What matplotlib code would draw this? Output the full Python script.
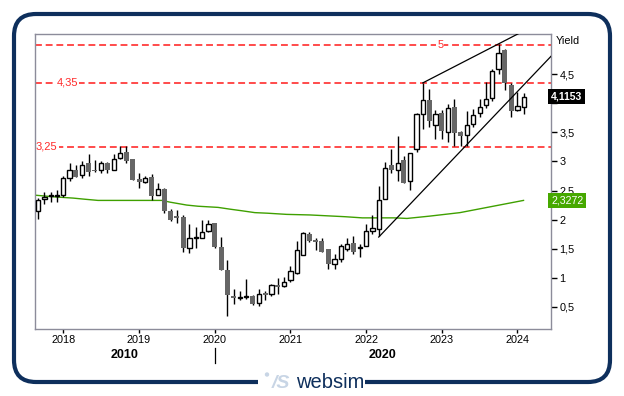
import matplotlib
matplotlib.use("Agg")
import matplotlib.pyplot as plt
import matplotlib.ticker as mticker
from matplotlib.patches import FancyBboxPatch, Rectangle, Circle
import numpy as np
import pandas as pd

plt.rcParams['font.family'] = ['Liberation Sans', 'DejaVu Sans']

# ---------------- data (monthly candles, Sep 2017 .. Feb 2024) ----------------
months = pd.period_range('2017-09', '2024-02', freq='M')
opens = [2.14, 2.35, 2.40, 2.41, 2.43, 2.72, 2.86, 2.76, 2.97, 2.86, 2.86, 2.97,
         2.86, 3.06, 3.16, 3.04, 2.70, 2.65, 2.73, 2.43, 2.52, 2.14, 2.06, 2.04,
         1.52, 1.69, 1.69, 1.81, 1.94, 1.53, 1.14, 0.69, 0.66, 0.67, 0.69, 0.56,
         0.74, 0.72, 0.87, 0.86, 0.96, 1.09, 1.40, 1.75, 1.65, 1.64, 1.49, 1.24,
         1.33, 1.50, 1.59, 1.51, 1.54, 1.80, 1.84, 2.36, 2.94, 2.86, 3.02, 2.67,
         3.21, 3.81, 4.05, 3.62, 3.84, 3.51, 3.93, 3.51, 3.46, 3.64, 3.84, 3.97,
         4.09, 4.59, 4.91, 4.31, 3.89, 3.93]
highs = [2.37, 2.48, 2.48, 2.51, 2.75, 2.98, 2.93, 3.00, 3.13, 3.02, 3.01, 2.99,
         3.13, 3.26, 3.26, 3.05, 2.80, 2.75, 2.78, 2.63, 2.54, 2.19, 2.16, 2.08,
         1.92, 1.87, 1.99, 1.99, 1.95, 1.70, 1.30, 0.81, 0.77, 0.98, 0.70, 0.81,
         0.78, 0.89, 0.99, 1.01, 1.20, 1.63, 1.78, 1.78, 1.69, 1.68, 1.49, 1.41,
         1.58, 1.69, 1.71, 1.58, 1.93, 2.08, 2.58, 2.99, 3.21, 3.43, 3.10, 3.14,
         3.83, 4.35, 4.24, 3.89, 3.89, 3.98, 4.08, 3.53, 3.87, 3.90, 4.07, 4.36,
         4.58, 5.02, 4.94, 4.34, 4.19, 4.17]
lows = [2.01, 2.27, 2.31, 2.31, 2.39, 2.66, 2.74, 2.71, 2.75, 2.81, 2.80, 2.80,
        2.86, 3.04, 2.98, 2.68, 2.54, 2.63, 2.33, 2.43, 2.12, 1.98, 1.95, 1.45,
        1.43, 1.52, 1.68, 1.78, 1.52, 1.14, 0.34, 0.55, 0.62, 0.64, 0.54, 0.52,
        0.62, 0.69, 0.73, 0.85, 0.92, 1.07, 1.39, 1.61, 1.48, 1.44, 1.15, 1.15,
        1.28, 1.46, 1.41, 1.35, 1.54, 1.75, 1.72, 2.35, 2.80, 2.67, 2.63, 2.51,
        3.17, 3.56, 3.60, 3.39, 3.38, 3.33, 3.27, 3.27, 3.27, 3.60, 3.77, 3.92,
        4.04, 4.51, 4.23, 3.77, 3.87, 3.81]
closes = [2.33, 2.39, 2.42, 2.41, 2.72, 2.86, 2.74, 2.93, 2.82, 2.83, 2.97, 2.86,
          3.05, 3.15, 3.01, 2.68, 2.64, 2.71, 2.41, 2.52, 2.15, 2.00, 2.03, 1.52,
          1.68, 1.69, 1.78, 1.92, 1.53, 1.14, 0.71, 0.65, 0.66, 0.67, 0.55, 0.72,
          0.70, 0.87, 0.85, 0.92, 1.11, 1.48, 1.77, 1.64, 1.61, 1.45, 1.24, 1.32,
          1.54, 1.58, 1.45, 1.51, 1.80, 1.85, 2.34, 2.88, 2.85, 2.98, 2.63, 3.14,
          3.81, 4.06, 3.70, 3.82, 3.53, 3.91, 3.48, 3.44, 3.62, 3.80, 3.94, 4.08,
          4.56, 4.86, 4.34, 3.86, 3.96, 4.1153]

# moving average line (read points)
ma_x = [2017.626, 2017.89, 2018.128, 2018.287, 2018.458, 2019.304, 2019.41, 2019.63,
        2019.78, 2020.045, 2020.20, 2020.37, 2020.53, 2020.70, 2020.95, 2021.26,
        2021.72, 2021.95, 2022.38, 2022.54, 2022.84, 2023.24, 2023.64, 2024.08]
ma_v = [2.42, 2.39, 2.37, 2.35, 2.33, 2.33, 2.30, 2.25, 2.23, 2.21, 2.18, 2.15, 2.12,
        2.11, 2.09, 2.08, 2.05, 2.03, 2.03, 2.02, 2.06, 2.12, 2.22, 2.33]
ma_last = 2.3272
last_close = 4.1153

levels = [5.0, 4.35, 3.25]
level_labels = ['5', '4,35', '3,25']
level_label_x = [2022.98, 2018.05, 2017.78]

upper_trend = ([2022.75, 2023.75], [4.35, 5.02])
lower_trend = ([2022.167, 2023.2], [1.70, 3.11])

year_ticks = [2018, 2019, 2020, 2021, 2022, 2023, 2024]
y_ticks = [0.5, 1, 1.5, 2, 2.5, 3, 3.5, 4, 4.5]
decades = ['2010', '2020']

# ---------------- figure ----------------
W, H = 624, 396
fig = plt.figure(figsize=(W / 100, H / 100), dpi=100)
fig.patch.set_facecolor('white')

bg = fig.add_axes([0, 0, 1, 1], zorder=-5)
bg.set_xlim(0, W)
bg.set_ylim(H, 0)
bg.axis('off')

navy = '#0e2f5c'
frame = FancyBboxPatch((14, 14), 596, 368, boxstyle='round,pad=0,rounding_size=22',
                       fill=False, ec=navy, lw=3.0)
bg.add_patch(frame)
bg.add_patch(Rectangle((258, 370), 107, 20, fc='white', ec='none', zorder=3))
bg.add_patch(Circle((267, 374.5), 2.2, fc='#c8d5e5', ec='none', zorder=4))
bg.text(281, 383, '/S', fontsize=14, fontstyle='italic', fontweight='bold',
        color='#c8d5e5', ha='center', va='center', zorder=4)
bg.text(296, 383, 'websim', fontsize=14.5, color=navy, ha='left', va='center', zorder=4)

ax = fig.add_axes([35 / W, 1 - 329 / H, 516 / W, 295 / H])
x = np.asarray(months.year + (months.month - 1) / 12.0, dtype=float)
o = np.array(opens); h = np.array(highs); l = np.array(lows); c = np.array(closes)

ax.vlines(x, l, h, color='black', lw=1.0, zorder=3)
up = c >= o
bw = 0.056
body_lo = np.minimum(o, c)
body_h = np.maximum(np.abs(c - o), 0.012)
ax.bar(x[up], body_h[up], bottom=body_lo[up], width=bw, color='white',
       edgecolor='black', linewidth=1.0, zorder=4)
ax.bar(x[~up], body_h[~up], bottom=body_lo[~up], width=bw + 0.01, color='#666666',
       edgecolor='none', linewidth=0, zorder=4)

ax.plot(ma_x, ma_v, color='#3fa000', lw=1.0, zorder=2)

for lv, lab, lx in zip(levels, level_labels, level_label_x):
    ax.axhline(lv, color='#ff1a1a', lw=1.1, ls=(0, (4.5, 2.5)), zorder=1)
    ax.text(lx, lv, lab, color='#ff2a2a', fontsize=8, ha='center', va='center',
            bbox=dict(fc='white', ec='none', pad=0.8), zorder=1.5)

def extend(pts, x1):
    (xa, xb), (ya, yb) = pts
    s = (yb - ya) / (xb - xa)
    return [xa, x1], [ya, ya + s * (x1 - xa)]

ux, uy = extend(upper_trend, 2024.3)
lx_, ly_ = extend(lower_trend, 2024.6)
ax.plot(ux, uy, color='black', lw=0.9, zorder=5)
ax.plot(lx_, ly_, color='black', lw=0.9, zorder=5)

ax.set_xlim(2017.626, 2024.443)
ax.set_ylim(0.12, 5.19)

for s in ax.spines.values():
    s.set_color('#8c8c9a')
    s.set_linewidth(1.0)

ax.yaxis.tick_right()
ax.set_yticks(y_ticks)
# the "4" label sits behind the last-value box in the reference
ax.yaxis.set_major_formatter(mticker.FuncFormatter(
    lambda v, p: '' if abs(v - 4) < 1e-9 else ('%g' % v).replace('.', ',')))
ax.tick_params(axis='y', length=4, width=1, pad=2, labelsize=7.8, colors='black')
ax.set_xticks(year_ticks)
ax.set_xticklabels([str(v) for v in year_ticks])
ax.tick_params(axis='x', length=3, width=1, pad=1.5, labelsize=7.8, colors='black')

ax.text(1.01, 1.0 - 7 / 295, 'Yield', transform=ax.transAxes, fontsize=7.8,
        ha='left', va='center')
ax.text(1.0, last_close, ('%.4f' % last_close).replace('.', ','), transform=ax.get_yaxis_transform(),
        fontsize=7.6, fontweight='bold', color='white', ha='left', va='center',
        bbox=dict(fc='black', ec='none', boxstyle='square,pad=0.25'), zorder=10, clip_on=False)
ax.text(1.0, ma_last, ('%.4f' % ma_last).replace('.', ','), transform=ax.get_yaxis_transform(),
        fontsize=7.6, color='white', ha='left', va='center',
        bbox=dict(fc='#46a800', ec='none', boxstyle='square,pad=0.25'), zorder=10, clip_on=False)

# decade row
x0, x1 = ax.get_xlim()
def px(yr):
    return 35 + (yr - x0) / (x1 - x0) * 516
bg.text(px((x0 + 2020) / 2), 355, decades[0], fontsize=9, fontweight='bold', ha='center', va='center')
bg.text(px((2020 + x1) / 2), 355, decades[1], fontsize=9, fontweight='bold', ha='center', va='center')
bg.plot([px(2020), px(2020)], [348, 363], color='black', lw=0.9)

fig.savefig('out.png', dpi=100)
